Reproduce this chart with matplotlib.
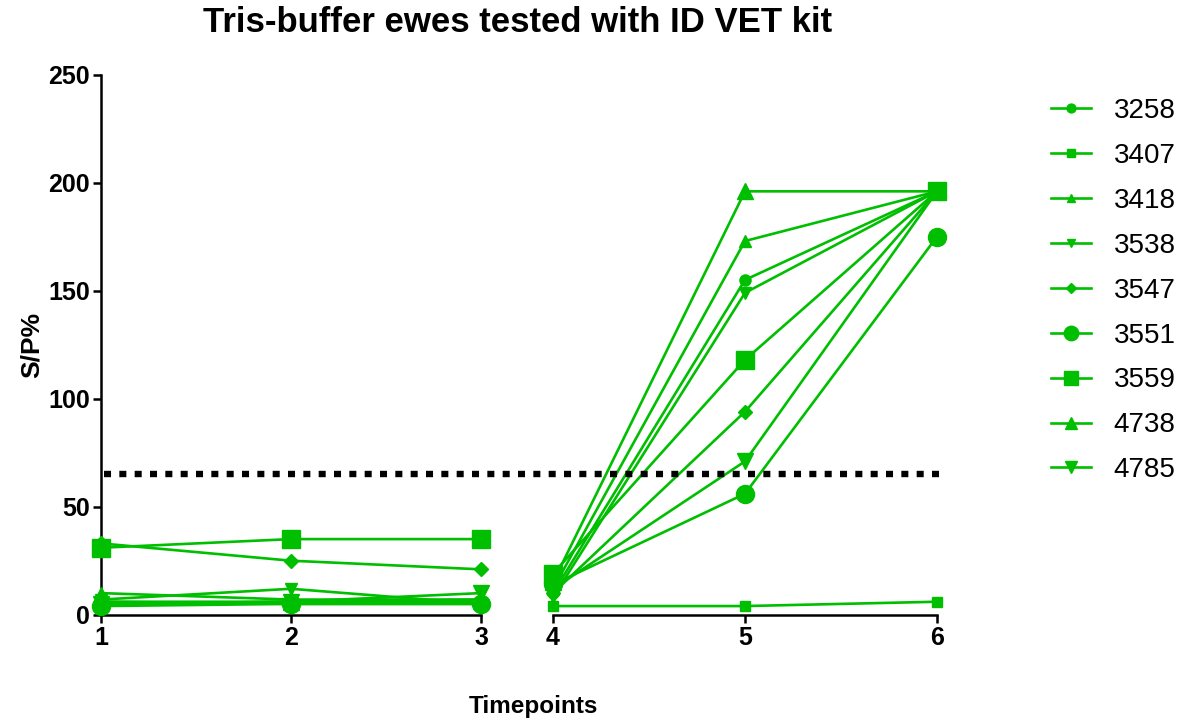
import matplotlib
matplotlib.use("Agg")
import matplotlib.pyplot as plt
import matplotlib.transforms as mtransforms

plt.rcParams['font.family'] = ['Liberation Sans', 'DejaVu Sans']

timepoints = [1, 2, 3, 4, 5, 6]
ewes = ['3258', '3407', '3418', '3538', '3547', '3551', '3559', '4738', '4785']
values = {
    '3258': [5, 6, 6, 10, 155, 196],
    '3407': [6, 5, 5, 4, 4, 6],
    '3418': [10, 7, 7, 12, 173, 196],
    '3538': [7, 12, 5, 8, 149, 196],
    '3547': [33, 25, 21, 10, 94, 196],
    '3551': [4, 5, 5, 14, 56, 175],
    '3559': [31, 35, 35, 19, 118, 196],
    '4738': [6, 6, 7, 15, 196, 196],
    '4785': [5, 6, 10, 12, 71, 196],
}
cutoff = 65
yticks = [0, 50, 100, 150, 200, 250]

markers = {'3258': ('o', 8), '3407': ('s', 7.5), '3418': ('^', 8), '3538': ('v', 8),
           '3547': ('D', 7), '3551': ('o', 13), '3559': ('s', 13), '4738': ('^', 11),
           '4785': ('v', 11)}
green = '#00BE00'

fig = plt.figure(figsize=(11.81, 7.27), dpi=100)
H = 727.0
W = 1181.0
bottom = 1 - 614.7 / H
height = (614.7 - 74.7) / H
ax1 = fig.add_axes([101 / W, bottom, (481 - 101) / W, height])
ax2 = fig.add_axes([553 / W, bottom, (937 - 553) / W, height])

for ax, idx in ((ax1, slice(0, 3)), (ax2, slice(3, 6))):
    for e in ewes:
        m, ms = markers[e]
        ax.plot(timepoints[idx], values[e][idx], color=green, lw=1.9, marker=m,
                ms=ms, mec=green, mfc=green, clip_on=False, label=e, zorder=3)
    ax.set_ylim(0, 250)
    for s in ('top', 'right'):
        ax.spines[s].set_visible(False)
    for s in ('left', 'bottom'):
        ax.spines[s].set_linewidth(1.8)
    ax.tick_params(width=1.8, length=6, labelsize=18, direction='out', pad=2)

ax1.set_xlim(1, 3)
ax1.set_xticks([1, 2, 3])
ax2.set_xlim(4, 6)
ax2.set_xticks([4, 5, 6])
ax1.set_yticks(yticks)
for lab in ax1.get_xticklabels() + ax1.get_yticklabels() + ax2.get_xticklabels():
    lab.set_fontweight('bold')
ax2.spines['left'].set_visible(False)
ax2.set_yticks([])

trans = mtransforms.blended_transform_factory(fig.transFigure, ax1.transData)
fig.add_artist(plt.Line2D([104 / W, 946 / W], [cutoff, cutoff], transform=trans,
                          color='black', lw=4.6, dashes=(1.1, 1.3), zorder=5))

fig.text(32 / W, 1 - 345 / H, 'S/P%', ha='center', va='center', rotation=90,
         fontsize=19, fontweight='bold')
fig.text(533 / W, 1 - 707 / H, 'Timepoints', ha='center', va='center',
         fontsize=17.5, fontweight='bold')
fig.text(518 / W, 1 - 22 / H, 'Tris-buffer ewes tested with ID VET kit', ha='center',
         va='center', fontsize=25, fontweight='bold')

handles, labels = ax2.get_legend_handles_labels()
fig.legend(handles, labels, loc='upper left', bbox_to_anchor=(1040 / W, 1 - 87 / H),
           frameon=False, fontsize=20, handlelength=1.45, labelspacing=0.68,
           handletextpad=0.8, markerscale=0.8, borderaxespad=0, borderpad=0.4)

fig.savefig('out.png', dpi=100)
